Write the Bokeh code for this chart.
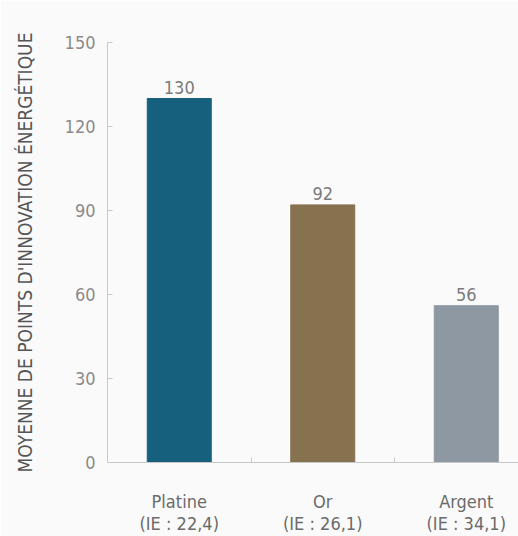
from bokeh.plotting import figure
from bokeh.models import Range1d, FixedTicker, ColumnDataSource
from bokeh.embed import file_html
from bokeh.resources import INLINE
from bokeh.core.properties import value

categories = ["Platine", "Or", "Argent"]
ie_labels = ["(IE : 22,4)", "(IE : 26,1)", "(IE : 34,1)"]
values = [130, 92, 56]
colors = ["#17607d", "#87724f", "#8e98a2"]
y_ticks = [0, 30, 60, 90, 120, 150]

FONT = "'Liberation Sans Narrow', 'DejaVu Sans Condensed', Roboto"

xs = [i + 0.5 for i in range(len(categories))]
src = ColumnDataSource(dict(x=xs, top=values, color=colors,
                            label=[str(v) for v in values]))

p = figure(width=518, height=536, output_backend="svg", toolbar_location=None,
           x_range=Range1d(0, 2.864), y_range=Range1d(0, 150),
           min_border_left=107, min_border_right=0, min_border_top=42,
           min_border_bottom=73)
p.background_fill_color = "#fafafa"
p.border_fill_color = "#fafafa"
p.outline_line_color = None
p.grid.visible = False

p.vbar(x="x", top="top", width=0.446, color="color", source=src)
p.text(x="x", y="top", text="label", source=src, text_align="center",
       text_baseline="bottom", y_offset=-5, text_font=value(FONT),
       text_font_size="18px", text_color="#7a7a7a")

# y axis
ya = p.yaxis[0]
ya.ticker = FixedTicker(ticks=y_ticks, minor_ticks=[])
ya.axis_line_color = "#c8c8c8"
ya.major_tick_line_color = "#c8c8c8"
ya.major_tick_in = 5
ya.major_tick_out = 0
ya.minor_tick_line_color = None
ya.major_label_text_font = FONT
ya.major_label_text_font_size = "18px"
ya.major_label_text_color = "#8a8a8a"
ya.major_label_standoff = 12
ya.axis_label = "MOYENNE DE POINTS D'INNOVATION ÉNERGÉTIQUE"
ya.axis_label_text_font = FONT
ya.axis_label_text_font_size = "19px"
ya.axis_label_text_font_style = "normal"
ya.axis_label_text_color = "#555555"
ya.axis_label_standoff = 26

# x axis
xa = p.xaxis[0]
xa.ticker = FixedTicker(ticks=xs, minor_ticks=[1, 2])
xa.major_label_overrides = {x: f"{c}\n{ie}" for x, c, ie in zip(xs, categories, ie_labels)}
xa.axis_line_color = "#c8c8c8"
xa.major_tick_line_color = None
xa.minor_tick_line_color = "#c8c8c8"
xa.minor_tick_in = 5
xa.minor_tick_out = 0
xa.major_label_text_font = FONT
xa.major_label_text_font_size = "18px"
xa.major_label_text_color = "#6b6b6b"
xa.major_label_text_line_height = 1.05
xa.major_label_standoff = 22

open("out.html", "w").write(file_html(p, INLINE))
